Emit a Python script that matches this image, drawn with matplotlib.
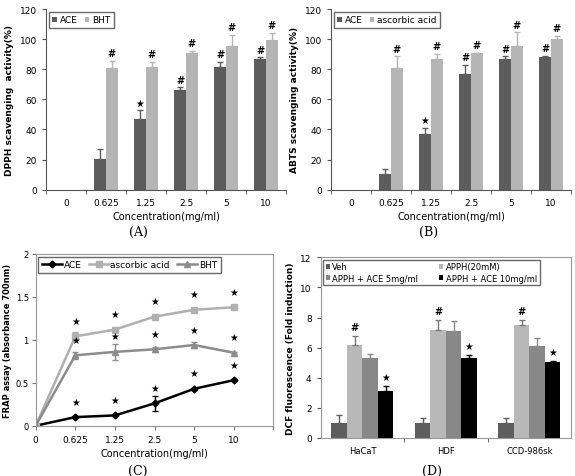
import numpy as np
import matplotlib.pyplot as plt
from matplotlib.lines import Line2D

W, H = 575, 477

conc = ["0", "0.625", "1.25", "2.5", "5", "10"]

# (A) DPPH
dpph_ace = [0, 20.4, 46.9, 66.4, 81.3, 86.6]
dpph_ace_err = [0, 6.4, 5.8, 1.6, 3.7, 1.3]
dpph_bht = [0, 80.6, 81.5, 90.8, 95.6, 99.6]
dpph_bht_err = [0, 4.7, 3.5, 1.5, 7.1, 4.7]
dpph_ace_mark = ["", "", "★", "#", "#", "#"]
dpph_bht_mark = ["", "#", "#", "#", "#", "#"]

# (B) ABTS
abts_ace = [0, 10.4, 37.0, 76.8, 86.8, 88.3]
abts_ace_err = [0, 3.1, 4.0, 6.0, 1.8, 0.5]
abts_asc = [0, 80.6, 86.8, 90.6, 95.6, 99.9]
abts_asc_err = [0, 8.0, 3.5, 0.4, 8.9, 2.1]
abts_ace_mark = ["", "", "★", "#", "#", "#"]
abts_asc_mark = ["", "#", "#", "#", "#", "#"]

# (C) FRAP
frap_ace = [0, 0.10, 0.12, 0.26, 0.43, 0.53]
frap_ace_err = [0, 0.01, 0.01, 0.09, 0.01, 0.01]
frap_asc = [0, 1.04, 1.12, 1.27, 1.35, 1.38]
frap_asc_err = [0, 0.05, 0.01, 0.01, 0.01, 0.01]
frap_bht = [0, 0.82, 0.86, 0.89, 0.94, 0.85]
frap_bht_err = [0, 0.04, 0.09, 0.03, 0.03, 0.01]

# (D) DCF
cells = ["HaCaT", "HDF", "CCD-986sk"]
veh = [1.0, 1.0, 1.0]
veh_err = [0.5, 0.35, 0.35]
apph = [6.2, 7.2, 7.5]
apph_err = [0.55, 0.65, 0.35]
ace5 = [5.3, 7.1, 6.1]
ace5_err = [0.3, 0.7, 0.55]
ace10 = [3.1, 5.3, 5.05]
ace10_err = [0.35, 0.2, 0.05]

plt.rcParams['font.family'] = 'DejaVu Sans'
tick_fs = 6.5
dark, light, mid = '#5c5c5c', '#b5b5b5', '#8a8a8a'


def add_ax(l, t, r, b):
    return fig.add_axes([l / W, 1 - b / H, (r - l) / W, (b - t) / H])


fig = plt.figure(figsize=(W / 100, H / 100), dpi=100)


def bar_panel(ax, s1, e1, s2, e2, m1, m2, labels, ylabel):
    x = np.arange(len(conc))
    w = 0.29
    for vals, errs, marks, col, off, lab in [(s1, e1, m1, dark, -w / 2, labels[0]),
                                             (s2, e2, m2, light, w / 2, labels[1])]:
        ax.bar(x + off, vals, w, color=col, label=lab)
        # error bars only where there is a bar (skip the 0 concentration)
        ax.errorbar(x[1:] + off, vals[1:], yerr=[np.zeros(len(errs) - 1), errs[1:]],
                    fmt='none', ecolor=col, elinewidth=1, capsize=2.5, capthick=1)
        for xi, v, e, m in zip(x, vals, errs, marks):
            if m:
                ax.annotate(m, (xi + off, v + e), xytext=(0, 2), textcoords='offset points',
                            ha='center', va='bottom', fontsize=7, fontweight='bold')
    ax.set_xlim(-0.5, 5.5)
    ax.set_ylim(0, 120)
    ax.set_yticks(range(0, 121, 20))
    ax.set_xticks(x)
    ax.set_xticklabels(conc)
    ax.set_xticks(np.arange(-0.5, 6, 1), minor=True)
    ax.tick_params(axis='x', which='major', length=0, labelsize=tick_fs, pad=6)
    ax.tick_params(axis='x', which='minor', length=3, color='#555555')
    ax.tick_params(axis='y', labelsize=tick_fs, length=3, color='#555555')
    for s in ['top', 'right']:
        ax.spines[s].set_visible(False)
    for s in ['left', 'bottom']:
        ax.spines[s].set_color('#555555')
    ax.set_xlabel("Concentration(mg/ml)", fontsize=7, labelpad=3)
    ax.set_ylabel(ylabel, fontsize=6.5, fontweight='bold', labelpad=4)
    ax.legend(loc='upper left', ncol=2, fontsize=6.5, frameon=True, fancybox=False,
              edgecolor='#444444', handlelength=0.5, handleheight=0.5, handletextpad=0.3,
              columnspacing=0.8, borderpad=0.4, borderaxespad=0.3)


axA = add_ax(46, 10, 286, 190.7)
bar_panel(axA, dpph_ace, dpph_ace_err, dpph_bht, dpph_bht_err, dpph_ace_mark, dpph_bht_mark,
          ["ACE", "BHT"], "DPPH scavenging  activity(%)")
axB = add_ax(331, 10, 571, 190.7)
bar_panel(axB, abts_ace, abts_ace_err, abts_asc, abts_asc_err, abts_ace_mark, abts_asc_mark,
          ["ACE", "ascorbic acid"], "ABTS scavenging activity(%)")

# (C)
axC = add_ax(35.7, 255, 273.3, 426.7)
x = np.arange(len(conc))
c_handles = []
for vals, errs, col, mk, ms, lab in [(frap_ace, frap_ace_err, 'black', 'D', 3.5, "ACE"),
                                     (frap_asc, frap_asc_err, '#b0b0b0', 's', 5, "ascorbic acid"),
                                     (frap_bht, frap_bht_err, '#8c8c8c', '^', 5, "BHT")]:
    axC.errorbar(x, vals, yerr=errs, color=col, marker=mk, markersize=ms, linewidth=1.8,
                 elinewidth=1, capsize=2)
    c_handles.append(Line2D([], [], color=col, marker=mk, markersize=ms, linewidth=1.8, label=lab))
    for xi, v in zip(x[1:], vals[1:]):
        axC.text(xi, v + 0.18, "★", ha='center', va='center', fontsize=7)
axC.set_xlim(0, 6)
axC.set_ylim(0, 2)
axC.set_xticks(np.arange(7))
axC.set_xticklabels(conc + [""])
axC.set_yticks([0, 0.5, 1, 1.5, 2])
axC.set_yticklabels(["0", "0.5", "1", "1.5", "2"])
axC.tick_params(axis='x', labelsize=tick_fs, length=3, color='#777777')
axC.tick_params(axis='y', labelsize=6, length=3, pad=2, color='#777777')
for s in axC.spines.values():
    s.set_color('#999999')
axC.set_xlabel("Concentration(mg/ml)", fontsize=7, labelpad=3)
axC.set_ylabel("FRAP assay (absorbance 700nm)", fontsize=6, fontweight='bold')
axC.yaxis.set_label_coords(-23.5 / 237.6, 0.5)
axC.legend(handles=c_handles, loc='upper left', ncol=3, fontsize=6.5, frameon=True, fancybox=False,
           edgecolor='#444444', handlelength=2.2, handletextpad=0.2, columnspacing=0.8,
           borderpad=0.4, borderaxespad=0.3)

# (D)
axD = add_ax(320.7, 258.3, 571, 439)
xd = np.arange(len(cells))
w = 0.186
series = [(veh, veh_err, '#5e5e5e', "Veh"),
          (apph, apph_err, '#b8b8b8', "APPH(20mM)"),
          (ace5, ace5_err, '#888888', "APPH + ACE 5mg/ml"),
          (ace10, ace10_err, 'black', "APPH + ACE 10mg/ml")]
handles = []
for i, (vals, errs, col, lab) in enumerate(series):
    off = (i - 1.5) * w
    b = axD.bar(xd + off, vals, w, color=col, label=lab,
                yerr=[np.zeros(len(errs)), errs],
                error_kw=dict(ecolor=col if col != '#b8b8b8' else '#777777', elinewidth=1,
                              capsize=2.5, capthick=1))
    handles.append(b)
    mark = "#" if i == 1 else ("★" if i == 3 else "")
    if mark:
        for xi, v, e in zip(xd, vals, errs):
            axD.annotate(mark, (xi + off, v + e), xytext=(0, 3), textcoords='offset points',
                         ha='center', va='bottom', fontsize=7, fontweight='bold')
axD.set_xlim(-0.5, 2.5)
axD.set_ylim(0, 12)
axD.set_yticks(range(0, 13, 2))
axD.set_xticks(xd)
axD.set_xticklabels(cells)
axD.set_xticks([0.5, 1.5], minor=True)
axD.tick_params(axis='x', which='major', length=0, labelsize=6, pad=6)
axD.tick_params(axis='x', which='minor', length=3, color='#555555')
axD.tick_params(axis='y', labelsize=tick_fs, length=3, color='#555555')
for s in axD.spines.values():
    s.set_color('#999999')
axD.set_ylabel("DCF fluorescence (Fold induction)", fontsize=6.5, fontweight='bold', labelpad=4)
axD.legend([handles[0], handles[2], handles[1], handles[3]],
           [series[0][3], series[2][3], series[1][3], series[3][3]],
           loc='upper left', ncol=2, fontsize=6, frameon=True, fancybox=False,
           edgecolor='#444444', handlelength=0.5, handleheight=0.5, handletextpad=0.3,
           columnspacing=2.5, borderpad=0.3, borderaxespad=0.3, labelspacing=0.3)

for lab, px, py in [("(A)", 138, 232), ("(B)", 429, 232), ("(C)", 138, 471), ("(D)", 432, 471)]:
    fig.text(px / W, 1 - py / H, lab, ha='center', va='center', fontsize=9, family='serif')

plt.savefig("out.png", dpi=100)
